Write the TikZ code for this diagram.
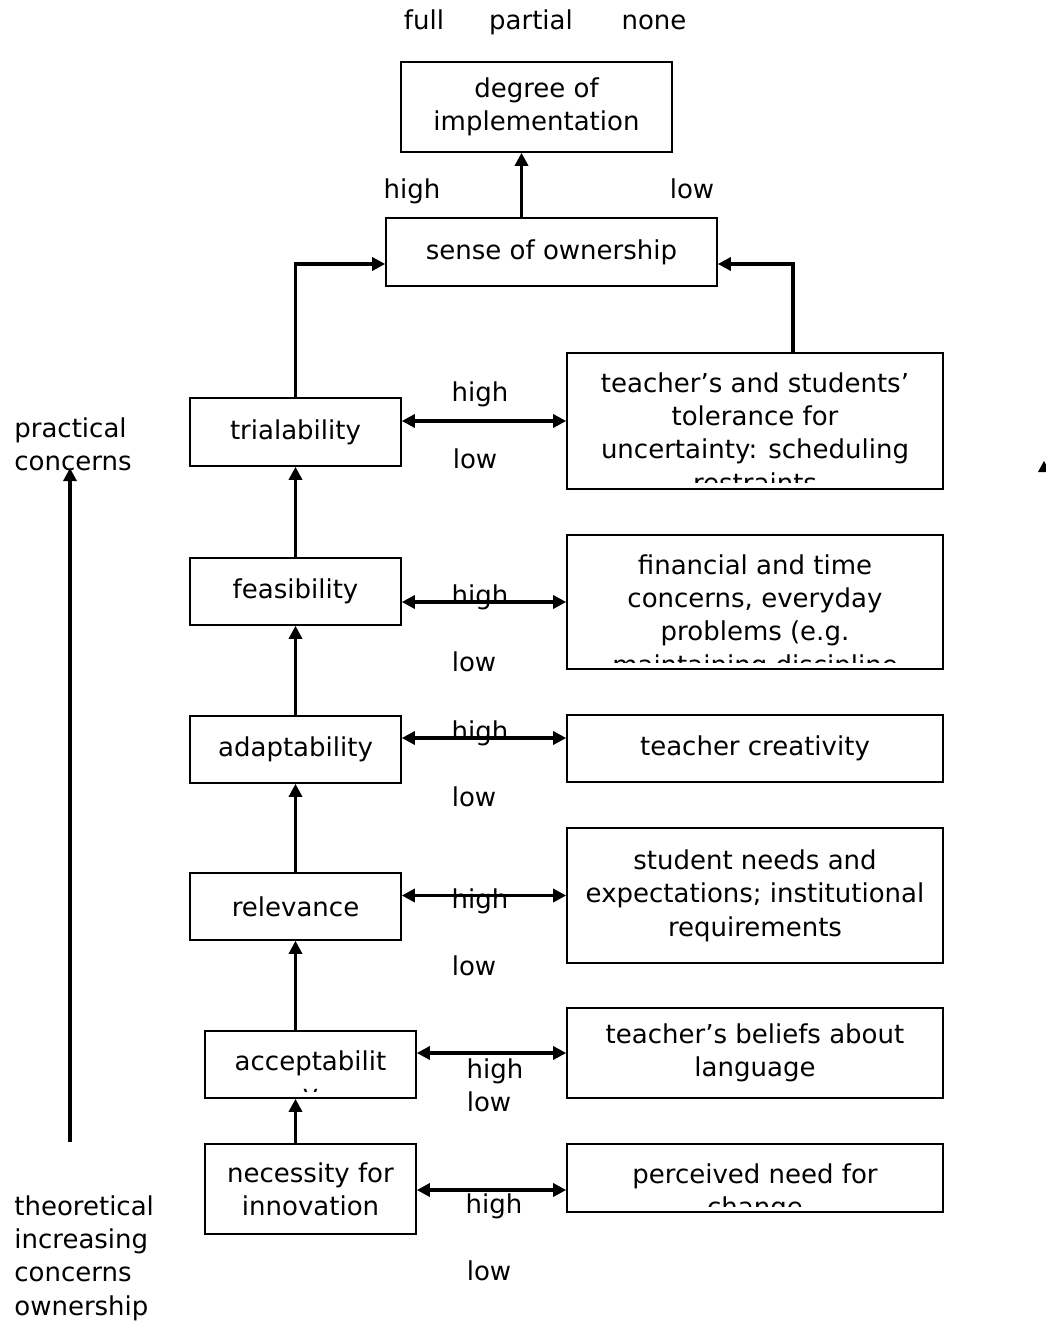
\documentclass[tikz,border=0pt]{standalone}
\usepackage{fontspec}
\setmainfont{DejaVu Sans}
\usetikzlibrary{arrows.meta,calc}

\tikzset{
  box/.style={draw, line width=0.9pt, inner sep=0pt, align=center},
  sz/.style 2 args={minimum width=#1*0.02cm, minimum height=#2*0.02cm},
  cut/.style 2 args={path picture={
      \clip ($(path picture bounding box.south west)+(0,#1)$) rectangle (path picture bounding box.north east);
      \node[draw=none, inner sep=0pt, minimum width=0pt, minimum height=0pt, align=center, anchor=north]
        at ($(path picture bounding box.north)+(0,-0.37cm)$) {#2};}},
  lbl/.style={inner sep=0pt, anchor=base},
  side/.style={inner sep=0pt, align=left, anchor=north west},
  arr/.style={line width=1.8pt, -{Triangle[length=7.5pt,width=7.5pt]}},
  dbl/.style={line width=1.8pt, {Triangle[length=7.5pt,width=7.5pt]}-{Triangle[length=7.5pt,width=7.5pt]}}
}

\begin{document}
\begin{tikzpicture}[x=0.02cm, y=-0.02cm, font=\fontsize{14.8}{19}\selectfont]
  \useasboundingbox (0,0) rectangle (1045,1322);

  % degree of implementation
  \node[lbl] (full) at (424,29) {full};
  \node[lbl] (part) at (531,29) {partial};
  \node[lbl] (none) at (654,29) {none};
  \node[box, sz={271}{90}] (deg) at (536.5,107) {degree of\\implementation};

  % sense of ownership
  \node[box, sz={331}{68}] (own) at (551.5,252) {sense of ownership};
  \node[lbl] (ownhi) at (412,198) {high};
  \node[lbl] (ownlo) at (692,198) {low};
  \coordinate (up) at ($(own.north)+(-30,0)$);
  \draw[arr] (up) -- (up |- deg.south);

  % left column
  \node[box, sz={211}{68}] (trial) at (295.5,432) {trialability};
  \node[box, sz={211}{67}] (feas) at (295.5,591.5) {feasibility};
  \node[box, sz={211}{67}] (adapt) at (295.5,749.5) {adaptability};
  \node[box, sz={211}{67}] (relev) at (295.5,906.5) {relevance};
  \node[box, sz={211}{67}, cut={0.13cm}{acceptabilit\\y}] (accept) at (310.5,1064.5) {};
  \node[box, sz={211}{90}] (innov) at (310.5,1189) {necessity for\\innovation};

  % right column
  \node[box, sz={376}{136}, cut={0.14cm}{teacher’s and students’\\tolerance for\\uncertainty: scheduling\\restraints}] (tol) at (755,421) {};
  \node[box, sz={376}{134}, cut={0.13cm}{financial and time\\concerns, everyday\\problems (e.g.\\maintaining discipline}] (fin) at (755,602) {};
  \node[box, sz={376}{67}] (creat) at (755,748.5) {teacher creativity};
  \node[box, sz={376}{135}] (need) at (755,895.5) {student needs and\\expectations; institutional\\requirements};
  \node[box, sz={376}{90}] (belief) at (755,1053) {teacher’s beliefs about\\language};
  \node[box, sz={376}{68}, cut={0.12cm}{perceived need for\\change}] (change) at (755,1178) {};

  % up the left column
  \draw[arr] (relev.south |- innov.north) -- (relev.south |- accept.south);
  \draw[arr] (relev.south |- accept.north) -- (relev.south);
  \draw[arr] (relev.north) -- (adapt.south);
  \draw[arr] (adapt.north) -- (feas.south);
  \draw[arr] (feas.north) -- (trial.south);
  \draw[arr] (trial.north) -- (trial.north |- 0,264) -- (own.west |- 0,264);
  \coordinate (tr) at ($(tol.north)+(38,0)$);
  \draw[arr] (tr) -- (tr |- 0,264) -- (own.east |- 0,264);

  % high / low links
  \draw[dbl] (trial.east |- tol.west) -- (tol.west);
  \node[lbl] (trhi) at (480,401) {high};
  \node[lbl] (trlo) at (475,468) {low};
  \draw[dbl] (feas.east |- fin.west) -- (fin.west);
  \node[lbl] (fehi) at (480,604) {high};
  \node[lbl] (felo) at (474,671) {low};
  \draw[dbl] (adapt.east |- 0,738) -- (creat.west |- 0,738);
  \node[lbl] (adhi) at (480,740) {high};
  \node[lbl] (adlo) at (474,806) {low};
  \draw[dbl] (relev.east |- need.west) -- (need.west);
  \node[lbl] (rehi) at (480,908) {high};
  \node[lbl] (relo) at (474,975) {low};
  \draw[dbl] (accept.east |- belief.west) -- (belief.west);
  \node[lbl] (achi) at (495,1078) {high};
  \node[lbl] (aclo) at (489,1111) {low};
  \draw[dbl] (innov.east |- 0,1190) -- (change.west |- 0,1190);
  \node[lbl] (inhi) at (494,1213) {high};
  \node[lbl] (inlo) at (489,1280) {low};

  % theoretical to practical
  \node[side] (prac) at (14,417) {practical\\concerns};
  \node[side] (theo) at (14,1195) {theoretical\\increasing\\concerns\\ownership};
  \coordinate (bot) at (70,1142);
  \coordinate (top) at (70,468);
  \draw[arr] (bot) -- (top);
  \fill (1038,472) -- (1044,461) -- (1050,472) -- cycle;

\end{tikzpicture}
\end{document}
